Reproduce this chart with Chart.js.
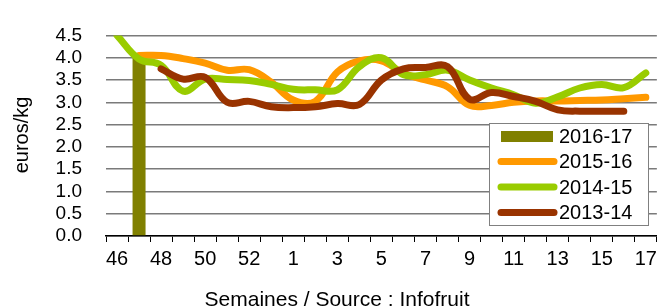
<!DOCTYPE html>
<html><head><meta charset="utf-8">
<script src="https://cdn.jsdelivr.net/npm/chart.js@4.4.1/dist/chart.umd.min.js"></script>
<style>html,body{margin:0;padding:0;background:#fff;overflow:hidden}#wrap{width:662px;height:306px;position:relative}</style>
</head><body><div id="wrap"><canvas id="c" width="662" height="306"></canvas></div>
<script>
// Categories: weeks (46..53, then 1..17)
const weeks = ['46','47','48','49','50','51','52','53','1','2','3','4','5','6','7','8','9','10','11','12','13','14','15','16','17'];
// Weeks whose label is displayed on the x axis
const shownWeeks = ['46','48','50','52','1','3','5','7','9','11','13','15','17'];
// Y tick values
const yTicks = [0,0.5,1,1.5,2,2.5,3,3.5,4,4.5];

const labels = ['2016-17','2015-16','2014-15','2013-14'];

const s2016_17 = [null,4.0,null,null,null,null,null,null,null,null,null,null,null,null,null,null,null,null,null,null,null,null,null,null,null];
const s2015_16 = [null,4.05,4.05,3.98,3.88,3.72,3.73,3.45,3.05,3.02,3.68,3.93,3.93,3.65,3.5,3.35,2.93,2.93,3.0,3.03,3.03,3.04,3.05,3.08,3.11];
const s2014_15 = [4.5,3.97,3.83,3.25,3.52,3.51,3.49,3.4,3.29,3.28,3.28,3.8,4.0,3.62,3.62,3.72,3.5,3.32,3.17,2.98,3.12,3.32,3.4,3.33,3.66];
const s2013_14 = [null,null,3.75,3.52,3.56,3.0,3.02,2.9,2.88,2.9,2.97,2.95,3.5,3.75,3.78,3.8,3.07,3.22,3.13,3.02,2.83,2.8,2.8,2.8,null];

const colors = ['#808000','#FF9900','#99CC00','#993300'];
const FONT = '"Liberation Sans", Arial, sans-serif';

const overlay = {
  id: 'overlay',
  afterDraw(chart) {
    const ctx = chart.ctx;
    ctx.save();
    // Axis titles
    ctx.fillStyle = '#000';
    ctx.font = '21px ' + FONT;
    ctx.textAlign = 'center';
    ctx.textBaseline = 'alphabetic';
    ctx.fillText('Semaines / Source : Infofruit', 337, 306);
    ctx.save();
    ctx.translate(28, 135);
    ctx.rotate(-Math.PI/2);
    ctx.font = '20px ' + FONT;
    ctx.fillText('euros/kg', 0, 0);
    ctx.restore();
    // Legend
    const bx = 489, by = 123, bw = 159, bh = 102;
    ctx.fillStyle = '#fff';
    ctx.fillRect(bx, by, bw, bh);
    ctx.strokeStyle = '#808080';
    ctx.lineWidth = 1;
    ctx.strokeRect(bx + 0.5, by + 0.5, bw, bh);
    const rows = [136.5, 161.5, 187, 212.5];
    chart.data.datasets.forEach((ds, i) => {
      const y = rows[i];
      if (i === 0) {
        ctx.fillStyle = ds.backgroundColor;
        ctx.fillRect(501, y - 5.5, 52, 11);
      } else {
        ctx.strokeStyle = ds.borderColor;
        ctx.lineWidth = 7;
        ctx.lineCap = 'round';
        ctx.beginPath();
        ctx.moveTo(501, y);
        ctx.lineTo(554, y);
        ctx.stroke();
      }
      ctx.fillStyle = '#000';
      ctx.font = '20px ' + FONT;
      ctx.textAlign = 'left';
      ctx.textBaseline = 'middle';
      ctx.fillText(ds.label, 559, y + 1);
    });
    ctx.restore();
  }
};

const lineDs = (label, data, color, order) => ({
  type: 'line', label, data, borderColor: color, backgroundColor: color,
  borderWidth: 7, pointRadius: 0, pointHoverRadius: 0, tension: 0.4,
  borderCapStyle: 'round', borderJoinStyle: 'round', fill: false, order
});

new Chart(document.getElementById('c'), {
  type: 'bar',
  data: {
    labels: weeks,
    datasets: [
      { type: 'bar', label: labels[0], data: s2016_17, backgroundColor: colors[0],
        barPercentage: 0.59, categoryPercentage: 1, order: 3 },
      lineDs(labels[1], s2015_16, colors[1], 2),
      lineDs(labels[2], s2014_15, colors[2], 1),
      lineDs(labels[3], s2013_14, colors[3], 0)
    ]
  },
  options: {
    responsive: false,
    animation: false,
    layout: { padding: { top: 22, right: 2, left: 0, bottom: 0 } },
    plugins: { legend: { display: false }, tooltip: { enabled: false }, title: { display: false } },
    scales: {
      x: {
        offset: true,
        grid: { display: true, offset: true, drawOnChartArea: false, drawTicks: true, tickLength: 6, color: '#000', lineWidth: 1 },
        border: { display: true, color: '#000', width: 1.5 },
        ticks: {
          autoSkip: false, maxRotation: 0, minRotation: 0, padding: 5, color: '#000',
          font: { family: FONT, size: 20 },
          callback: (v, i) => shownWeeks.includes(weeks[i]) ? weeks[i] : ''
        },
        afterFit: (s) => { s.height = 70; }
      },
      y: {
        min: 0, max: 4.5,
        afterBuildTicks: (s) => { s.ticks = yTicks.map(v => ({ value: v })); },
        grid: { color: '#7a7a7a', lineWidth: 1.5, drawTicks: false },
        border: { display: false },
        ticks: {
          autoSkip: false, padding: 24, color: '#000',
          font: { family: FONT, size: 19 },
          callback: (v) => Number(v).toFixed(1)
        },
        afterFit: (s) => { s.width = 106; }
      }
    }
  },
  plugins: [overlay]
});
</script>
</body></html>
